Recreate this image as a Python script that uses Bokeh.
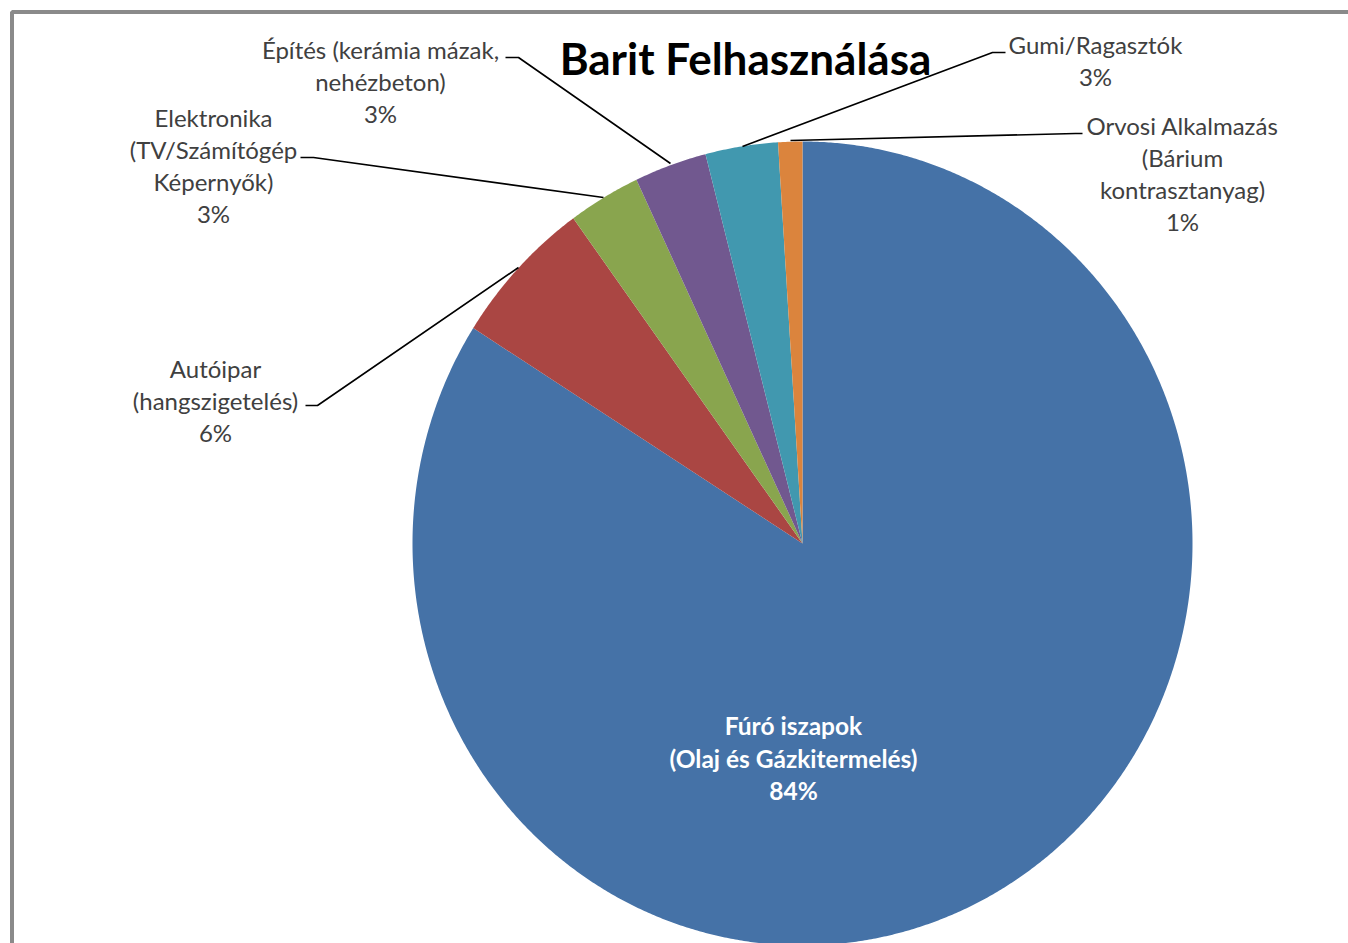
import numpy as np
from bokeh.plotting import figure
from bokeh.models import Range1d
from bokeh.core.properties import value
from bokeh.embed import file_html
from bokeh.resources import INLINE

# ---- data ----
categories = [
    "Fúró iszapok\n(Olaj és Gázkitermelés)",
    "Autóipar\n(hangszigetelés)",
    "Elektronika\n(TV/Számítógép\nKépernyők)",
    "Építés (kerámia mázak,\nnehézbeton)",
    "Gumi/Ragasztók",
    "Orvosi Alkalmazás\n(Bárium\nkontrasztanyag)",
]
values = [84, 6, 3, 3, 3, 1]
colors = ["#4572A7", "#AA4643", "#89A54E", "#71588F", "#4198AF", "#DB843D"]
title_text = "Barit Felhasználása"

# ---- layout / style ----
W, H = 1348, 943
CX, CY = 802, 543
RX, RY = 390, 402
FONT = "Lato"

p = figure(width=W, height=H, output_backend="svg", toolbar_location=None,
           x_range=Range1d(0, W), y_range=Range1d(H, 0), min_border=0,
           outline_line_color=None, background_fill_color="white",
           border_fill_color="white")
p.xaxis.visible = False
p.yaxis.visible = False
p.grid.visible = False

# frame (left/top edges visible in the reference)
p.quad(left=[11.5], right=[W + 50], top=[11.5], bottom=[H + 50],
       fill_color=None, line_color="#8a8a8a", line_width=4)

# pie slices (clockwise from 12 o'clock), slightly elliptical like the reference
total = float(sum(values))
frac = np.array(values) / total
ends = np.cumsum(frac) * 2 * np.pi
starts = ends - frac * 2 * np.pi
xs, ys = [], []
for a0, a1 in zip(starts, ends):
    t = np.linspace(a0, a1, max(8, int((a1 - a0) * 180)))
    xs.append([CX] + list(CX + RX * np.sin(t)) + [CX])
    ys.append([CY] + list(CY - RY * np.cos(t)) + [CY])
p.patches(xs, ys, fill_color=colors, line_color=None)

# title
p.text(x=[745], y=[57], text=[title_text], text_font=value(FONT),
       text_font_style="bold", text_font_size="44px", text_color="#000000",
       text_align="center", text_baseline="middle")

# label placements (centre x, first line y) per category
label_pos = [(793, 725), (215, 368), (213, 117), (380, 49), (1095, 44), (1182, 125)]
LH = 32
for i, (cat, v) in enumerate(zip(categories, values)):
    lines = cat.split("\n") + [f"{v}%"]
    lx, ly = label_pos[i]
    if i == 0:
        p.text(x=[lx] * len(lines), y=[ly + k * 32.5 for k in range(len(lines))],
               text=lines, text_font=value(FONT), text_font_style="bold",
               text_font_size="24.5px", text_color="#FFFFFF",
               text_align="center", text_baseline="middle")
    else:
        p.text(x=[lx] * len(lines), y=[ly + k * LH for k in range(len(lines))],
               text=lines, text_font=value(FONT), text_font_size="24px",
               text_color="#404040", text_align="center", text_baseline="middle")

# leader lines
leaders = [
    ([305, 317, 518], [405, 405, 267]),   # Autóipar
    ([300, 313, 603], [157, 157, 197]),   # Elektronika
    ([505, 518, 670], [57, 57, 163]),     # Építés
    ([1005, 992, 742], [52, 52, 146]),    # Gumi
    ([1082, 1075, 790], [133, 133, 140]), # Orvosi
]
p.multi_line([l[0] for l in leaders], [l[1] for l in leaders],
             line_color="#000000", line_width=1.6)

open("out.html", "w").write(file_html(p, INLINE))
